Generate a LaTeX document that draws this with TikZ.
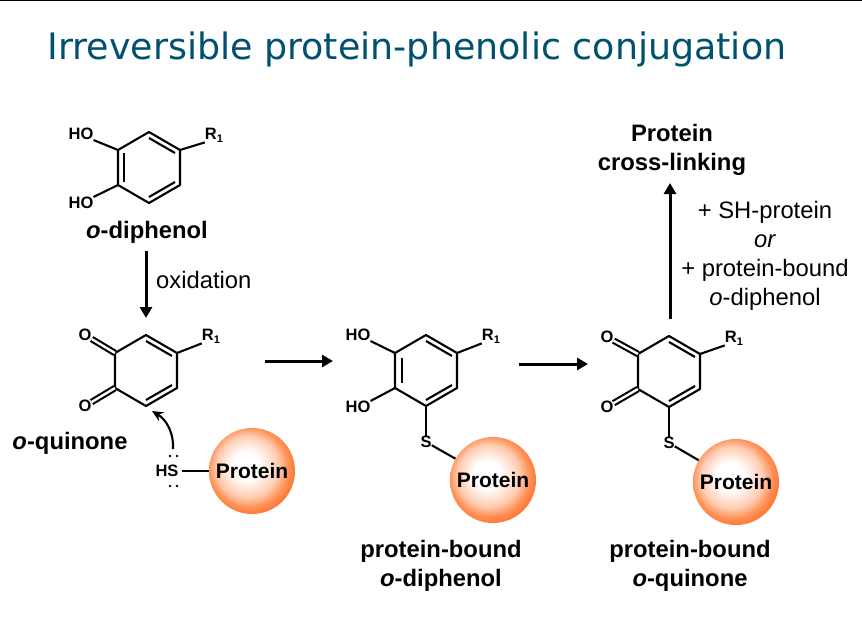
\documentclass[tikz,border=0pt]{standalone}
\usepackage{fontspec}
\setmainfont{Liberation Sans}
\newfontfamily\titlefont{DejaVu Sans}
\usetikzlibrary{arrows.meta}
\definecolor{titleblue}{RGB}{0,80,112}
\definecolor{ballrim}{RGB}{255,120,50}
\pgfdeclareradialshading{ballshade}{\pgfpoint{-4bp}{4bp}}{color(0bp)=(white); color(8bp)=(white); color(18bp)=(ballrim!38!white); color(23bp)=(ballrim!80!white); color(27bp)=(ballrim); color(50bp)=(ballrim)}
\newcommand{\Rone}{R\raisebox{-3pt}{\fontsize{11}{11}\selectfont 1}}
\tikzset{
	bond/.style={line width=2.1pt},
	dbond/.style={line width=2.1pt, double, double distance=2.4pt},
	react/.style={line width=3pt, -{Triangle[length=11pt,width=12pt]}},
	atom/.style={font=\bfseries\fontsize{16.5}{16.5}\selectfont, inner sep=0pt},
	compound/.style={font=\bfseries\fontsize{23.8}{29}\selectfont, align=center, inner sep=0pt},
	cond/.style={font=\fontsize{23.8}{29}\selectfont, align=center, inner sep=0pt},
	ball/.style={circle, minimum size=86pt, inner sep=0pt, shading=ballshade, font=\bfseries\fontsize{21}{21}\selectfont},
	ring/.pic={
		\coordinate (-t) at (0,0);
		\coordinate (-ur) at (31,18);
		\coordinate (-lr) at (31,53);
		\coordinate (-b) at (0,71);
		\coordinate (-ll) at (-31,53);
		\coordinate (-ul) at (-31,18);
		\draw[bond, line join=round] (-t) -- (-ur) -- (-lr) -- (-b) -- (-ll) -- (-ul) -- cycle;
		\draw[bond] (0,6) -- (26,21);
		\draw[bond] (0,65) -- (26,50);
	},
}
\begin{document}
\begin{tikzpicture}[x=1pt,y=-1pt]
	\useasboundingbox (0,0) rectangle (862,643);
	\draw[line width=1.5pt] (0,0.5) -- (862,0.5);
	\node[text=titleblue, font=\titlefont\fontsize{36.4}{36.4}\selectfont] (title) at (417,49) {Irreversible protein-phenolic conjugation};

	% o-diphenol
	\pic (a) at (149,132) {ring};
	\draw[bond] (124,153) -- (124,182);
	\node[atom] (aho1) at (81,134) {HO};
	\node[atom] (aho2) at (81,203) {HO};
	\node[atom] (ar) at (214,135) {\Rone};
	\draw[bond] (a-ul) -- (aho1.south east);
	\draw[bond] (a-ll) -- (aho2.north east);
	\draw[bond] (a-ur) -- (ar.south west);
	\node[compound] (aname) at (147,232) {\textit{o}-diphenol};

	% o-quinone
	\pic (b) at (146,335) {ring};
	\node[atom] (bo1) at (85,335) {O};
	\node[atom] (bo2) at (85,406) {O};
	\node[atom] (br) at (211,336) {\Rone};
	\draw[dbond] (b-ul) -- (bo1);
	\draw[dbond] (b-ll) -- (bo2);
	\draw[bond] (b-ur) -- (br.south west);
	\node[compound] (bname) at (70,443) {\textit{o}-quinone};
	\node[atom] (hs) at (167,471) {HS};
	\node[ball] (pa) at (252,471) {Protein};
	\draw[bond, shorten <=3pt] (hs) -- (pa);
	\foreach \y in {456,486}
		\foreach \x in {170,177}
			\fill (\x,\y) circle (1.4pt);
	\coordinate (hstop) at (173,449);
	\coordinate (bin) at (152,411);
	\draw[bond, -{Stealth[length=11pt,width=10pt]}] (hstop) .. controls (174,434) and (167,420) .. (bin);

	% protein-bound o-diphenol
	\pic (c) at (426,335) {ring};
	\draw[bond] (402,358) -- (402,383);
	\node[atom] (cho1) at (358,335) {HO};
	\node[atom] (cho2) at (358,407) {HO};
	\node[atom] (cr) at (491,336) {\Rone};
	\node[atom] (cs) at (426,442) {S};
	\node[ball] (pc) at (493,480) {Protein};
	\draw[bond] (c-ul) -- (cho1.south east);
	\draw[bond] (c-ll) -- (cho2.north east);
	\draw[bond] (c-ur) -- (cr.south west);
	\draw[bond] (c-b) -- (cs);
	\draw[bond] (cs) -- (pc);
	\node[compound] (cname) at (441,566) {protein-bound\\\textit{o}-diphenol};

	% protein-bound o-quinone
	\pic (d) at (669,336) {ring};
	\node[atom] (do1) at (607,337) {O};
	\node[atom] (do2) at (607,407) {O};
	\node[atom] (dr) at (734,338) {\Rone};
	\node[atom] (ds) at (669,443) {S};
	\node[ball] (pd) at (736,482) {Protein};
	\draw[dbond] (d-ul) -- (do1);
	\draw[dbond] (d-ll) -- (do2);
	\draw[bond] (d-ur) -- (dr.south west);
	\draw[bond] (d-b) -- (ds);
	\draw[bond] (ds) -- (pd);
	\node[compound] (dname) at (690,566) {protein-bound\\\textit{o}-quinone};

	% reaction arrows
	\coordinate (ox1) at (146,251);
	\coordinate (ox2) at (146,318);
	\coordinate (h1a) at (265,361);
	\coordinate (h1b) at (333,361);
	\coordinate (h2a) at (519,364);
	\coordinate (h2b) at (588,364);
	\coordinate (up) at (670,319);
	\coordinate (uptip) at (670,183);
	\draw[react] (ox1) -- (ox2);
	\node[cond, anchor=west] (oxlabel) at (156,280) {oxidation};
	\draw[react] (h1a) -- (h1b);
	\draw[react] (h2a) -- (h2b);
	\node[compound] (link) at (672,150) {Protein\\cross-linking};
	\draw[react] (up) -- (uptip);
	\node[cond] (extra) at (765,255.5) {+ SH-protein\\\textit{or}\\+ protein-bound\hspace*{5pt}\\\textit{o}-diphenol};
\end{tikzpicture}
\end{document}
